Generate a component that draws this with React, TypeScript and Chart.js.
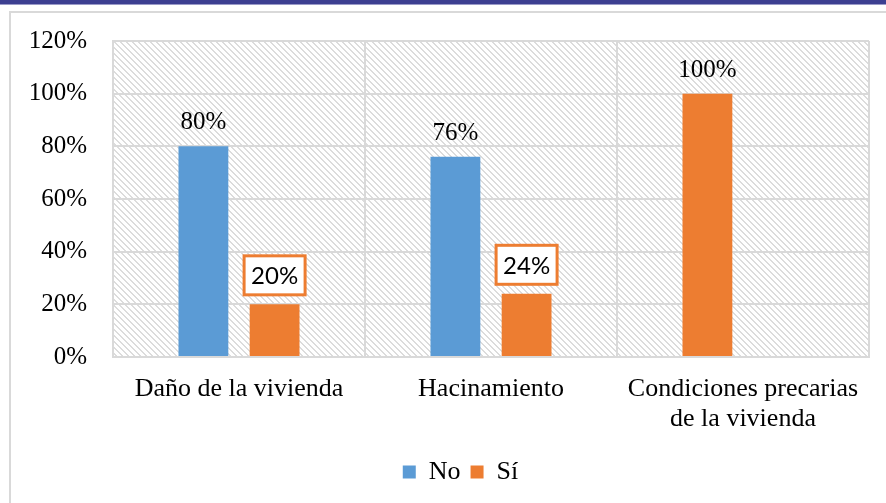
import React, { useEffect, useRef } from "react";
import { Chart, registerables } from "chart.js";

Chart.register(...registerables);

// ---- data ----
const categories: (string | string[])[] = [
  "Daño de la vivienda",
  "Hacinamiento",
  ["Condiciones precarias", "de la vivienda"],
];
const seriesNames = ["No", "Sí"];
const noValues: (number | null)[] = [80, 76, 100];
const siValues: (number | null)[] = [20, 24, null];
const yTickValues = [0, 20, 40, 60, 80, 100, 120];

// ---- style ----
const BLUE = "#5B9BD5";
const ORANGE = "#ED7D31";
const GRID = "#d9d9d9";
const SERIF = "'Liberation Serif', 'Times New Roman', serif";
const noColors = [BLUE, BLUE, ORANGE];

const hatchPlugin = {
  id: "hatch",
  beforeDraw(chart: any) {
    const { ctx, chartArea: a } = chart;
    const P = 6;
    const c = document.createElement("canvas");
    c.width = P;
    c.height = P;
    const p = c.getContext("2d")!;
    p.fillStyle = "#ffffff";
    p.fillRect(0, 0, P, P);
    p.fillStyle = "#dcdcdc";
    for (let y = 0; y < P; y++) {
      for (let k = 0; k < 2; k++) p.fillRect((y + k) % P, y, 1, 1);
    }
    const pat = ctx.createPattern(c, "repeat");
    ctx.save();
    ctx.fillStyle = pat;
    ctx.fillRect(a.left, a.top, a.right - a.left, a.bottom - a.top);
    ctx.restore();
  },
};

const legendShiftPlugin = {
  id: "legendShift",
  afterLayout(chart: any) {
    const lg = chart.legend;
    if (lg) {
      lg.left += 26;
      lg.right += 26;
    }
  },
};

const labelPlugin = {
  id: "vlabels",
  afterDatasetsDraw(chart: any) {
    const ctx = chart.ctx;
    chart.data.datasets.forEach((ds: any, di: number) => {
      const meta = chart.getDatasetMeta(di);
      meta.data.forEach((bar: any, i: number) => {
        const v = ds.data[i];
        if (v == null) return;
        const text = v + "%";
        ctx.save();
        if (di === 0) {
          ctx.font = `25px ${SERIF}`;
          ctx.fillStyle = "#000";
          ctx.textAlign = "center";
          ctx.textBaseline = "alphabetic";
          ctx.fillText(text, bar.x, bar.y - 17);
        } else {
          const w = 61;
          const h = 39;
          const bottom = bar.y - 9.5;
          ctx.fillStyle = "#fff";
          ctx.fillRect(bar.x - w / 2, bottom - h, w, h);
          ctx.lineWidth = 3;
          ctx.strokeStyle = ORANGE;
          ctx.strokeRect(bar.x - w / 2, bottom - h, w, h);
          ctx.font = "24px Lato, 'Liberation Sans', sans-serif";
          ctx.fillStyle = "#000";
          ctx.textAlign = "center";
          ctx.textBaseline = "middle";
          ctx.fillText(text, bar.x, bottom - h / 2 + 1);
        }
        ctx.restore();
      });
    });
  },
};

export default function App() {
  const ref = useRef<HTMLCanvasElement>(null);

  useEffect(() => {
    if (!ref.current) return;
    const chart = new Chart(ref.current, {
      type: "bar",
      data: {
        labels: categories as any,
        datasets: [
          {
            label: seriesNames[0],
            data: noValues,
            backgroundColor: noColors,
            categoryPercentage: 0.565,
            barPercentage: 0.7,
          },
          {
            label: seriesNames[1],
            data: siValues,
            backgroundColor: ORANGE,
            categoryPercentage: 0.565,
            barPercentage: 0.7,
          },
        ],
      },
      options: {
        responsive: false,
        animation: false,
        layout: { padding: { top: 41, right: 17, left: 0, bottom: 8 } },
        plugins: {
          tooltip: { enabled: false },
          legend: {
            position: "bottom",
            labels: {
              boxWidth: 13,
              boxHeight: 13,
              padding: 10,
              color: "#000",
              font: { family: SERIF, size: 26 },
              generateLabels: () => [
                { text: seriesNames[0], fillStyle: BLUE, strokeStyle: BLUE, lineWidth: 0, hidden: false, datasetIndex: 0, fontColor: "#000" } as any,
                { text: seriesNames[1], fillStyle: ORANGE, strokeStyle: ORANGE, lineWidth: 0, hidden: false, datasetIndex: 1, fontColor: "#000" } as any,
              ],
            },
          },
        },
        scales: {
          x: {
            grid: { color: GRID, lineWidth: 2, drawTicks: false, offset: true },
            border: { color: GRID, width: 2 },
            ticks: {
              color: "#000",
              font: { family: SERIF, size: 26, lineHeight: 1.15 },
              padding: 17,
              maxRotation: 0,
              autoSkip: false,
            },
            afterFit: (s: any) => {
              s.height = 92;
            },
          },
          y: {
            min: 0,
            max: 120,
            afterBuildTicks: (s: any) => {
              s.ticks = yTickValues.map((v) => ({ value: v }));
            },
            ticks: {
              color: "#000",
              font: { family: SERIF, size: 25 },
              padding: 26,
              callback: (v: any) => v + "%",
            },
            grid: { color: GRID, lineWidth: 2, drawTicks: false },
            border: { color: GRID, width: 2 },
            afterFit: (s: any) => {
              s.width = 113;
            },
          },
        },
      },
      plugins: [hatchPlugin, legendShiftPlugin, labelPlugin],
    });
    return () => chart.destroy();
  }, []);

  return (
    <div
      style={{
        position: "fixed",
        left: 0,
        top: 0,
        width: 886,
        height: 503,
        background: "#fff",
        overflow: "hidden",
      }}
    >
      <div style={{ position: "absolute", left: 0, top: 0, width: 886, height: 4, background: "#3d3f91" }} />
      <div style={{ position: "absolute", left: 0, top: 4, width: 886, height: 1, background: "#9a9ac8" }} />
      <div
        style={{
          position: "absolute",
          left: 9,
          top: 11,
          width: 900,
          height: 600,
          border: `2px solid ${GRID}`,
          boxSizing: "border-box",
        }}
      />
      <canvas
        ref={ref}
        width={886}
        height={503}
        style={{ position: "absolute", left: 0, top: 0, display: "block" }}
      />
    </div>
  );
}
